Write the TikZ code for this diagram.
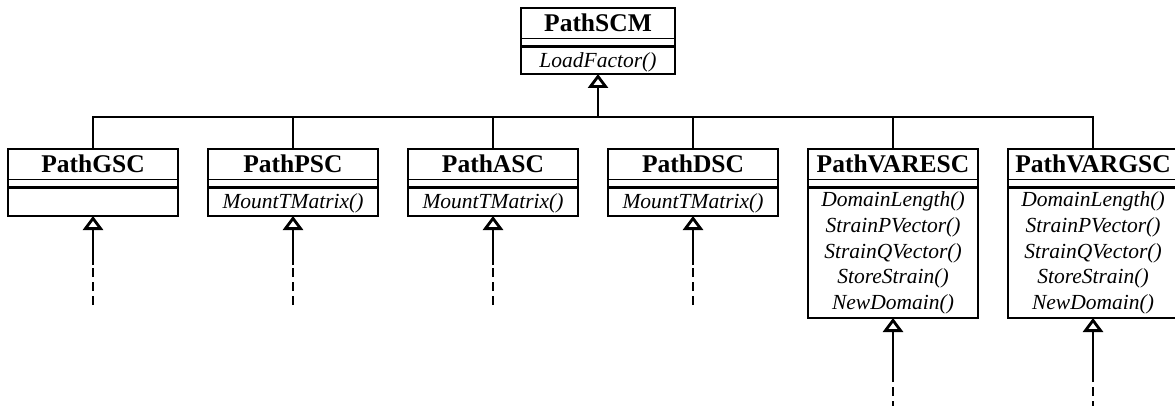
\documentclass[tikz,border=0pt]{standalone}
\usepackage{fontspec}
\setmainfont{Liberation Serif}
\usetikzlibrary{arrows.meta}

\tikzset{
  classbox/.style={draw, rectangle, line width=2.8pt, minimum width=170pt,
                   inner sep=0pt, outer sep=0pt, fill=white},
  thinsep/.style={line width=1.5pt},
  thicksep/.style={line width=3pt},
  conn/.style={line width=2.8pt},
  inherit/.style={conn, -{Triangle[open, length=14pt, width=20pt, fill=white]}},
  dashedconn/.style={conn, dash pattern=on 9pt off 5pt},
  classname/.style={font=\fontsize{25.5}{30}\selectfont\bfseries, inner sep=0pt, anchor=base},
  method/.style={font=\fontsize{21.5}{25}\selectfont\itshape, inner sep=0pt, anchor=base},
}

% #1 extra box options, #2 node name, #3 centre x, #4 top y, #5 bottom y, #6 class name
\newcommand\umlclass[6][]{%
  \node[classbox, minimum height={(#5)-(#4)}, #1] (#2) at (#3,{((#4)+(#5))/2}) {};
  \node[classname] (#2-name) at (#3,{(#4)+23.5}) {#6};
  \path (#2.north west) ++(0,30.5) coordinate (#2-a);
  \path (#2.north west) ++(0,39) coordinate (#2-b);
  \draw[thinsep] (#2-a) -- (#2-a -| #2.east);
  \draw[thicksep] (#2-b) -- (#2-b -| #2.east);
}

\begin{document}
\begin{tikzpicture}[x=1pt, y=-1pt]
\useasboundingbox (0,0) rectangle (1175,406);
\clip (0,0) rectangle (1175,406);

% base class
\umlclass[minimum width=154pt]{scm}{598}{8}{74}{PathSCM}
\node[method] (scm-m1) at (598,68) {LoadFactor()};

% derived classes
\umlclass{gsc}{93}{149}{216}{PathGSC}
\umlclass{psc}{293}{149}{216}{PathPSC}
\node[method] (psc-m1) at (293,208) {MountTMatrix()};
\umlclass{asc}{493}{149}{216}{PathASC}
\node[method] (asc-m1) at (493,208) {MountTMatrix()};
\umlclass{dsc}{693}{149}{216}{PathDSC}
\node[method] (dsc-m1) at (693,208) {MountTMatrix()};

\umlclass{varesc}{893}{149}{318}{PathVARESC}
\umlclass{vargsc}{1093}{149}{318}{PathVARGSC}
\foreach \cls/\cx in {varesc/893, vargsc/1093}{
  \node[method] (\cls-m1) at (\cx,206.5) {DomainLength()};
  \node[method] (\cls-m2) at (\cx,232.3) {StrainPVector()};
  \node[method] (\cls-m3) at (\cx,258.1) {StrainQVector()};
  \node[method] (\cls-m4) at (\cx,283.9) {StoreStrain()};
  \node[method] (\cls-m5) at (\cx,309.7) {NewDomain()};
}

% generalisation bus
\coordinate (bus) at (0,117);
\draw[conn, line join=miter] (gsc.north) -- (gsc.north |- bus)
  -- (vargsc.north |- bus) -- (vargsc.north);
\foreach \cls in {psc, asc, dsc, varesc}
  \draw[conn] (\cls.north |- bus) -- (\cls.north);
\draw[inherit] (scm.south |- bus) -- (scm.south);

% further subclasses (elided)
\foreach \cls/\cx in {gsc/93, psc/293, asc/493, dsc/693}{
  \coordinate (\cls-end) at (\cx,305);
  \coordinate (\cls-mid) at (\cx,265);
}
\foreach \cls/\cx in {varesc/893, vargsc/1093}{
  \coordinate (\cls-end) at (\cx,410);
  \coordinate (\cls-mid) at (\cx,373);
}
\foreach \cls in {gsc, psc, asc, dsc, varesc, vargsc}{
  \draw[dashedconn] (\cls-end) -- (\cls-mid);
  \draw[inherit] (\cls-mid) -- (\cls.south);
}
\end{tikzpicture}
\end{document}
